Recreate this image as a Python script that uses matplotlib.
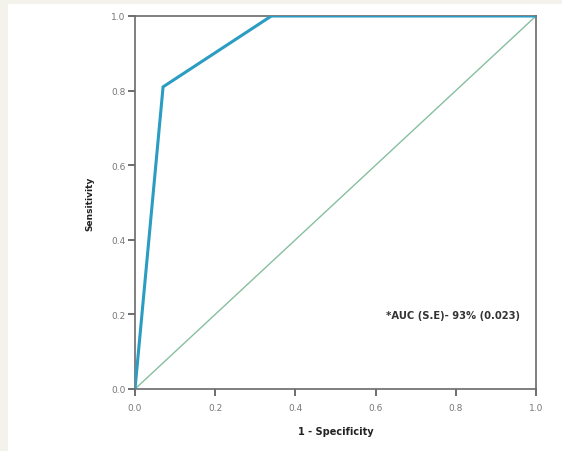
import matplotlib
matplotlib.use("Agg")
import matplotlib.pyplot as plt
from matplotlib.patches import Rectangle

fpr = [0.0, 0.07, 0.34, 1.0]
tpr = [0.0, 0.81, 1.0, 1.0]
ref = [0.0, 1.0]
ticks = [0.0, 0.2, 0.4, 0.6, 0.8, 1.0]
tick_labels = ["0.0", "0.2", "0.4", "0.6", "0.8", "1.0"]
annotation = "*AUC (S.E)- 93% (0.023)"

W, H = 562, 452
fig = plt.figure(figsize=(W / 100, H / 100), dpi=100, facecolor="#f3f2eb")
fig.patches.append(Rectangle((8 / W, 0), 1 - 8 / W, 1 - 5 / H, transform=fig.transFigure,
                             facecolor="white", edgecolor="none", zorder=-10))

ax = fig.add_axes([135 / W, 1 - 390 / H, (536 - 135) / W, (390 - 17) / H])
ax.set_zorder(5)
ax.set_facecolor("white")
ax.plot(ref, ref, color="#86bfa0", lw=1.0, zorder=2)
ax.plot(fpr, tpr, color="#2b9cc2", lw=2.2, zorder=3, solid_joinstyle="miter")
ax.set_xlim(0, 1)
ax.set_ylim(0, 1)
ax.set_xticks(ticks)
ax.set_xticklabels(tick_labels)
ax.set_yticks(ticks)
ax.set_yticklabels(tick_labels)
for s in ax.spines.values():
    s.set_color("#6a6a6a")
    s.set_linewidth(1.2)
ax.tick_params(axis="both", direction="out", length=5, width=1.2, color="#555555",
               labelsize=6.5, labelcolor="#777777")
ax.tick_params(axis="x", pad=5)
ax.tick_params(axis="y", pad=2)
ax.set_xlabel("1 - Specificity", fontsize=7, fontweight="bold", color="#222222", labelpad=10)
ax.set_ylabel("Sensitivity", fontsize=6.5, fontweight="bold", color="#222222", labelpad=12)
ax.text(0.625, 0.198, annotation, fontsize=7.2, fontweight="bold", color="#333333",
        transform=ax.transAxes, va="center", ha="left")

fig.savefig("out.png", dpi=100, facecolor=fig.get_facecolor())
